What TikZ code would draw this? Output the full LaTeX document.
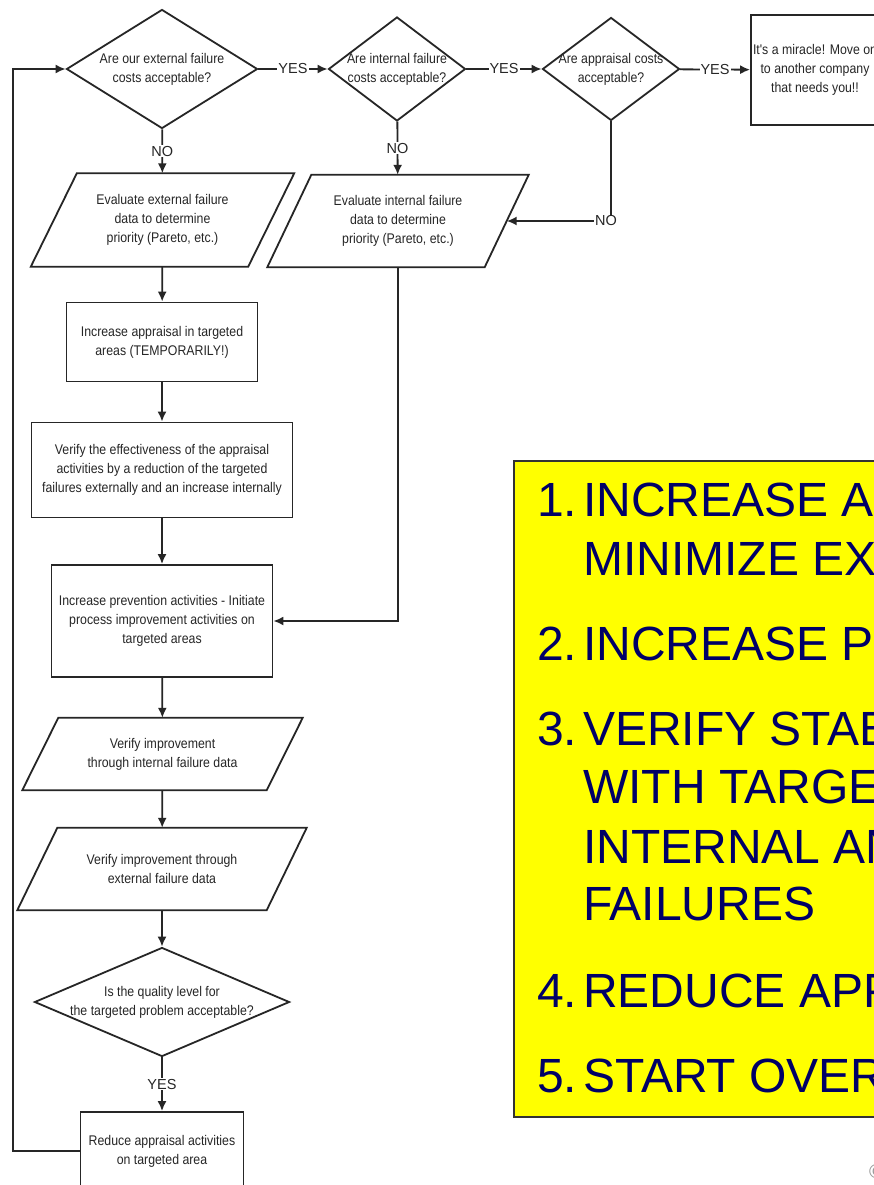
\documentclass[tikz,border=0pt]{standalone}
\usepackage{fontspec}
\setmainfont{Liberation Sans}
\newfontfamily\narrowsans{Liberation Sans}[FakeStretch=0.88]
\usetikzlibrary{shapes.geometric, arrows.meta, positioning, calc}

\definecolor{listblue}{RGB}{0,0,102}
\definecolor{listyellow}{RGB}{255,255,0}

\begin{document}
\begin{tikzpicture}[
    x=1pt, y=-1pt,
    flow/.style={font=\narrowsans\fontsize{14}{19}\selectfont, text=black!85},
    box/.style={flow, draw=black!85, line width=1.8pt, rectangle, align=center, inner sep=2pt},
    io/.style={flow, rectangle, align=center, inner sep=2pt},
    decision/.style={draw=black!85, line width=1.8pt, diamond, inner sep=0pt},
    arrow/.style={-{Latex[length=10pt,width=9pt]}, line width=1.8pt, draw=black!85},
    answer/.style={font=\fontsize{14.5}{14.5}\selectfont, fill=white, inner sep=1pt, text=black!85},
    item/.style={anchor=base west, font=\fontsize{48}{48}\selectfont, text=listblue, inner sep=0pt}
]
    \useasboundingbox (0,0) rectangle (874,1185);
    \fill[white] (0,0) rectangle (874,1185);
    \clip (0,0) rectangle (874,1185);

    % Decisions along the top
    \node[decision, minimum width=191pt, minimum height=119pt,
          label={[flow, align=center]center:Are our external failure\\costs acceptable?}] (d1) at (162,69) {};
    \node[decision, minimum width=137pt, minimum height=104pt,
          label={[flow, align=center]center:Are internal failure\\costs acceptable?}] (d2) at (397,69) {};
    \node[decision, minimum width=137pt, minimum height=103pt,
          label={[flow, align=center]center:Are appraisal costs\\acceptable?}] (d3) at (611,69) {};
    \node[box, minimum width=126pt, minimum height=110pt] (miracle) at (815,70)
        {It's a miracle! Move on\\to another company\\that needs you!!};

    % Data boxes
    \node[io, minimum width=217pt, minimum height=93pt] (p1) at (162.5,220)
        {Evaluate external failure\\data to determine\\priority (Pareto, etc.)};
    \node[io, minimum width=217pt, minimum height=92pt] (p2) at (398,221)
        {Evaluate internal failure\\data to determine\\priority (Pareto, etc.)};

    % Main column
    \node[box, minimum width=191pt, minimum height=79pt] (r1) at (162,342)
        {Increase appraisal in targeted\\areas (TEMPORARILY!)};
    \node[box, minimum width=261pt, minimum height=95pt] (r2) at (162,470)
        {Verify the effectiveness of the appraisal\\activities by a reduction of the targeted\\failures externally and an increase internally};
    \node[box, minimum width=221pt, minimum height=112pt] (r3) at (162,621)
        {Increase prevention activities - Initiate\\process improvement activities on\\targeted areas};
    \node[io, minimum width=244pt, minimum height=72pt] (p3) at (162.5,754)
        {Verify improvement\\through internal failure data};
    \node[io, minimum width=249pt, minimum height=82pt] (p4) at (162,869)
        {Verify improvement through\\external failure data};
    \node[decision, minimum width=255pt, minimum height=109pt,
          label={[flow, align=center]center:Is the quality level for\\the targeted problem acceptable?}] (d4) at (162,1002) {};
    \node[box, minimum width=163pt, minimum height=78pt] (r4) at (162,1151)
        {Reduce appraisal activities\\on targeted area};

    % Parallelogram outlines
    \foreach \n/\s in {p1/23, p2/22, p3/18, p4/20}
        \draw[draw=black!85, line width=1.8pt]
            ($(\n.north west)+(\s,0)$) -- ($(\n.north east)+(\s,0)$) --
            ($(\n.south east)-(\s,0)$) -- ($(\n.south west)-(\s,0)$) -- cycle;

    % Connectors
    \draw[arrow] (d1) -- node[answer] {YES} (d2);
    \draw[arrow] (d2) -- node[answer] {YES} (d3);
    \draw[arrow] (d3) -- node[answer] {YES} (miracle);
    \draw[arrow] (d1) -- node[answer] {NO} (p1);
    \draw[arrow] (d2) -- node[answer] {NO} (p2);
    \draw[arrow] (d3.south) |- node[answer, xshift=-5pt] {NO} (p2.east);
    \draw[arrow] (p1) -- (r1);
    \draw[arrow] (r1) -- (r2);
    \draw[arrow] (r2) -- (r3);
    \draw[arrow] (p2.south) |- (r3.east);
    \draw[arrow] (r3) -- (p3);
    \draw[arrow] (p3) -- (p4);
    \draw[arrow] (p4) -- (d4);
    \draw[arrow] (d4) -- node[answer] {YES} (r4);
    \draw[arrow] (r4.west) -| ([xshift=-53pt]d1.west) -- (d1.west);

    % Yellow summary
    \node[draw=black!80, fill=listyellow, line width=1.5pt, anchor=north west,
          minimum width=400pt, minimum height=656pt] (steps) at (513,460) {};
    \foreach \num/\y in {1./516, 2./660, 3./745, 4./1007, 5./1092}
        \node[item] (n\num) at (537,\y) {\num};
    \foreach \txt/\y [count=\i] in {INCREASE AP/516, MINIMIZE EX/575, INCREASE P/660,
            VERIFY STAB/745, WITH TARGE/803, INTERNAL AN/863, FAILURES/920,
            REDUCE APP/1007, START OVER/1092}
        \node[item] (line\i) at (583,\y) {\txt};

    \node[anchor=west, font=\fontsize{20}{20}\selectfont, text=black!40, inner sep=0pt] (mark) at (869,1172) {©};
\end{tikzpicture}
\end{document}
